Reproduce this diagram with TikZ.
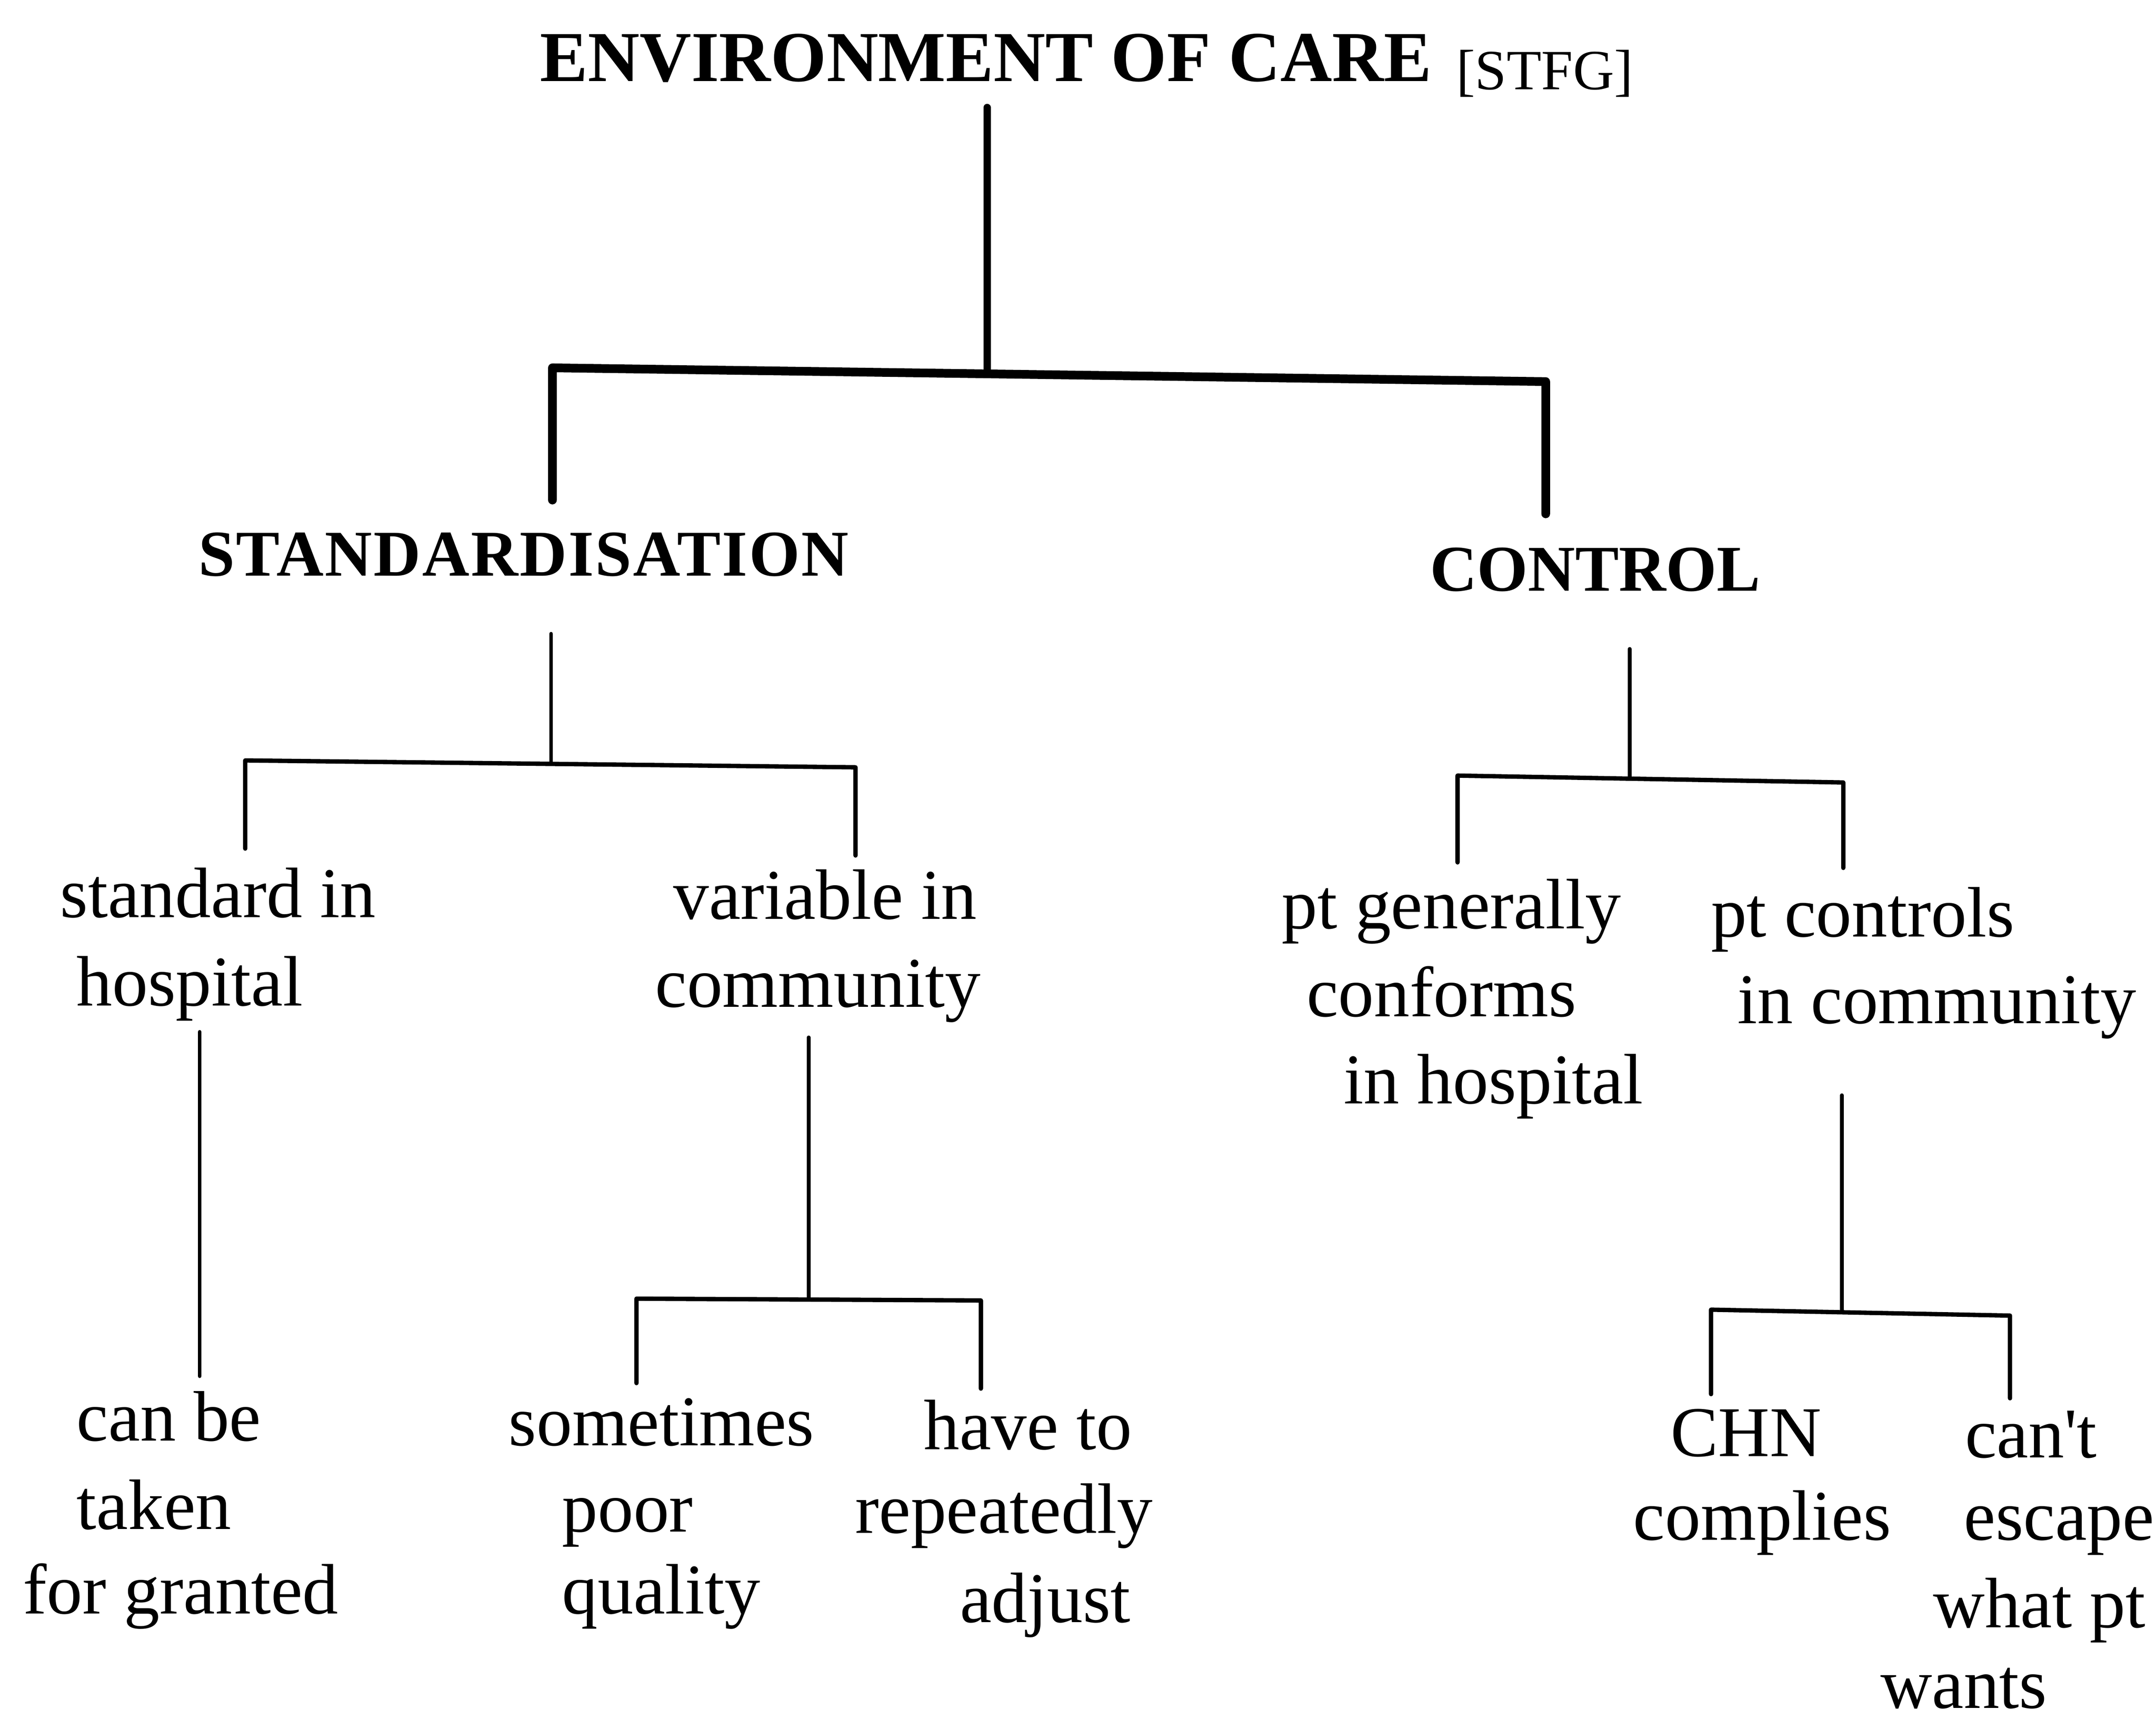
\documentclass[tikz,border=0pt]{standalone}
\usepackage{fontspec}
\setmainfont{Liberation Serif}
\begin{document}
\begin{tikzpicture}[x=0.02cm,y=-0.02cm,
  lbl/.style={anchor=base west, inner sep=0pt, outer sep=0pt, font=\fontsize{29.5}{35}\selectfont},
  head/.style={anchor=base west, inner sep=0pt, outer sep=0pt, font=\fontsize{27}{32}\selectfont\bfseries},
  ttl/.style={anchor=base west, inner sep=0pt, outer sep=0pt, font=\fontsize{29.6}{35}\selectfont\bfseries},
  tag/.style={anchor=base west, inner sep=0pt, outer sep=0pt, font=\fontsize{23.5}{28}\selectfont},
  heavyln/.style={line width=3.6pt, line cap=round, line join=round},
  stemln/.style={line width=3pt, line cap=round},
  thinln/.style={line width=1.5pt, line cap=round, line join=round},
  barln/.style={line width=1.8pt, line cap=round, line join=round}]
\useasboundingbox (0,0) rectangle (1565,1248.5);

% ---- texts
\node[ttl] (title) at (392,59) {ENVIRONMENT OF CARE};
\node[tag] (stfg) at (1057,65) {[STFG]};
\node[head] (std) at (144,418) {\addfontfeatures{LetterSpace=2.3}STANDARDISATION};
\node[head] (ctl) at (1038,429) {CONTROL};

\node[lbl] (sh1) at (43.8,666) {standard in};
\node[lbl] (sh2) at (55.7,730) {hospital};
\node[lbl] (vc1) at (488.7,667) {variable in};
\node[lbl] (vc2) at (475.6,731) {community};
\node[lbl] (pg1) at (930.5,674) {pt generally};
\node[lbl] (pg2) at (948.4,738) {conforms};
\node[lbl] (pg3) at (975.4,801) {in hospital};
\node[lbl] (pc1) at (1242,680) {pt controls};
\node[lbl] (pc2) at (1261.2,743) {in community};

\node[lbl] (cb1) at (55.7,1046) {can be};
\node[lbl] (cb2) at (55.7,1110) {taken};
\node[lbl] (cb3) at (16.7,1171.5) {for granted};
\node[lbl] (sp1) at (369.3,1049.4) {sometimes};
\node[lbl] (sp2) at (408,1112) {poor};
\node[lbl] (sp3) at (408,1171.5) {quality};
\node[lbl] (ht1) at (670.6,1052.2) {have to};
\node[lbl] (ht2) at (620.8,1113) {repeatedly};
\node[lbl] (ht3) at (696.8,1177.5) {adjust};
\node[lbl] (ch1) at (1212.6,1057.3) {CHN};
\node[lbl] (ch2) at (1185.6,1117.8) {complies};
\node[lbl] (ce1) at (1426.4,1058.1) {can\textquotesingle t};
\node[lbl] (ce2) at (1425.6,1117.8) {escape};
\node[lbl] (ce3) at (1403.3,1181.5) {what pt};
\node[lbl] (ce4) at (1365,1240) {wants};

% ---- junction coordinates
\coordinate (a0) at (716.5,78);
\coordinate (a1) at (716.5,270);
\coordinate (aL0) at (401,363);
\coordinate (aL) at (401,267);
\coordinate (aR) at (1122,277);
\coordinate (aR0) at (1122,373);

\coordinate (b0) at (400,460);
\coordinate (b1) at (400,554);
\coordinate (bL0) at (178,616);
\coordinate (bL) at (178,552);
\coordinate (bR) at (621,557);
\coordinate (bR0) at (621,621);

\coordinate (c0) at (1183,471);
\coordinate (c1) at (1183,565);
\coordinate (cL0) at (1058,626);
\coordinate (cL) at (1058,563);
\coordinate (cR) at (1338,568);
\coordinate (cR0) at (1338,630);

\coordinate (d0) at (145,749);
\coordinate (d1) at (145,999);

\coordinate (e0) at (587,753);
\coordinate (e1) at (587,943);
\coordinate (eL0) at (462,1004);
\coordinate (eL) at (462,942.7);
\coordinate (eR) at (712,944);
\coordinate (eR0) at (712,1008);

\coordinate (f0) at (1337,795);
\coordinate (f1) at (1337,951);
\coordinate (fL0) at (1242,1012);
\coordinate (fL) at (1242,950.7);
\coordinate (fR) at (1459,955);
\coordinate (fR0) at (1459,1015);

% ---- connectors
\draw[stemln] (a0) -- (a1);
\draw[heavyln] (aL0) -- (aL) -- (aR) -- (aR0);

\draw[thinln] (b0) -- (b1);
\draw[barln] (bL0) -- (bL) -- (bR) -- (bR0);

\draw[thinln] (c0) -- (c1);
\draw[barln] (cL0) -- (cL) -- (cR) -- (cR0);

\draw[thinln] (d0) -- (d1);

\draw[thinln] (e0) -- (e1);
\draw[barln] (eL0) -- (eL) -- (eR) -- (eR0);

\draw[thinln] (f0) -- (f1);
\draw[barln] (fL0) -- (fL) -- (fR) -- (fR0);
\end{tikzpicture}
\end{document}
